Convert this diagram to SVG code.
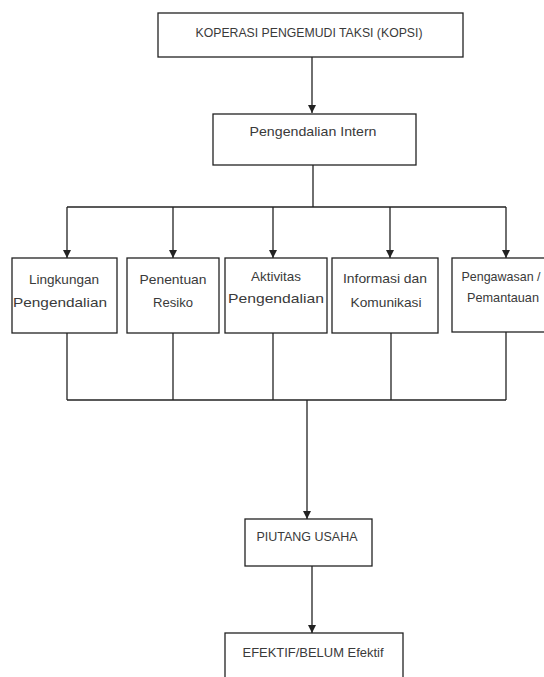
<svg xmlns="http://www.w3.org/2000/svg" width="544" height="677" viewBox="0 0 544 677">
<defs>
<marker id="ah" viewBox="0 0 8 10" refX="8" refY="5" markerWidth="8" markerHeight="10" markerUnits="userSpaceOnUse" orient="auto">
<path d="M0,1 L8,5 L0,9 Z" fill="#222"/>
</marker>
<style>
.box{fill:#fff;stroke:#222;stroke-width:1.3}
.t{font-family:"Liberation Sans",Arial,sans-serif;font-size:13px;fill:#3a3a3a;text-anchor:middle}
.c{fill:none;stroke:#222;stroke-width:1.3}
</style>
</defs>
<rect width="544" height="677" fill="#fff"/>
<g id="connectors">
<line class="c" x1="312" y1="57" x2="312" y2="113" marker-end="url(#ah)"/>
<line class="c" x1="313" y1="165" x2="313" y2="207"/>
<line class="c" x1="67" y1="207" x2="506" y2="207"/>
<line class="c" x1="67" y1="207" x2="67" y2="258" marker-end="url(#ah)"/>
<line class="c" x1="173" y1="207" x2="173" y2="258" marker-end="url(#ah)"/>
<line class="c" x1="273" y1="207" x2="273" y2="258" marker-end="url(#ah)"/>
<line class="c" x1="390" y1="207" x2="390" y2="258" marker-end="url(#ah)"/>
<line class="c" x1="506" y1="207" x2="506" y2="258" marker-end="url(#ah)"/>
<line class="c" x1="67" y1="333" x2="67" y2="400"/>
<line class="c" x1="173" y1="333" x2="173" y2="400"/>
<line class="c" x1="273" y1="333" x2="273" y2="400"/>
<line class="c" x1="391" y1="333" x2="391" y2="400"/>
<line class="c" x1="506" y1="332" x2="506" y2="400"/>
<line class="c" x1="67" y1="400" x2="506" y2="400"/>
<line class="c" x1="307" y1="400" x2="307" y2="519" marker-end="url(#ah)"/>
<line class="c" x1="312" y1="566" x2="312" y2="633" marker-end="url(#ah)"/>
</g>
<g id="kopsi">
<rect class="box" x="158" y="13" width="305" height="44"/>
<text class="t" x="309" y="37" textLength="227" lengthAdjust="spacingAndGlyphs">KOPERASI PENGEMUDI TAKSI (KOPSI)</text>
</g>
<g id="pengendalian-intern">
<rect class="box" x="213" y="114" width="203" height="51"/>
<text class="t" x="313" y="136" textLength="127" lengthAdjust="spacingAndGlyphs">Pengendalian Intern</text>
</g>
<g id="lingkungan">
<rect class="box" x="12" y="258" width="105" height="75"/>
<text class="t" x="64" y="284" textLength="70" lengthAdjust="spacingAndGlyphs">Lingkungan</text>
<text class="t" x="60" y="307" textLength="94" lengthAdjust="spacingAndGlyphs">Pengendalian</text>
</g>
<g id="resiko">
<rect class="box" x="127" y="258" width="92" height="75"/>
<text class="t" x="173" y="284" textLength="67" lengthAdjust="spacingAndGlyphs">Penentuan</text>
<text class="t" x="173" y="307" textLength="40" lengthAdjust="spacingAndGlyphs">Resiko</text>
</g>
<g id="aktivitas">
<rect class="box" x="225" y="258" width="102" height="75"/>
<text class="t" x="276" y="281" textLength="50" lengthAdjust="spacingAndGlyphs">Aktivitas</text>
<text class="t" x="276" y="303" textLength="96" lengthAdjust="spacingAndGlyphs">Pengendalian</text>
</g>
<g id="informasi">
<rect class="box" x="332" y="258" width="106" height="75"/>
<text class="t" x="385" y="283" textLength="84" lengthAdjust="spacingAndGlyphs">Informasi dan</text>
<text class="t" x="386" y="307" textLength="71" lengthAdjust="spacingAndGlyphs">Komunikasi</text>
</g>
<g id="pengawasan">
<rect class="box" x="452" y="258" width="100" height="74"/>
<text class="t" x="501" y="281" textLength="79" lengthAdjust="spacingAndGlyphs">Pengawasan /</text>
<text class="t" x="503" y="302" textLength="72" lengthAdjust="spacingAndGlyphs">Pemantauan</text>
</g>
<g id="piutang">
<rect class="box" x="245" y="519" width="127" height="47"/>
<text class="t" x="307" y="541" textLength="101" lengthAdjust="spacingAndGlyphs">PIUTANG USAHA</text>
</g>
<g id="efektif">
<rect class="box" x="225" y="633" width="178" height="60"/>
<text class="t" x="313" y="657" textLength="141" lengthAdjust="spacingAndGlyphs">EFEKTIF/BELUM Efektif</text>
</g>
</svg>
